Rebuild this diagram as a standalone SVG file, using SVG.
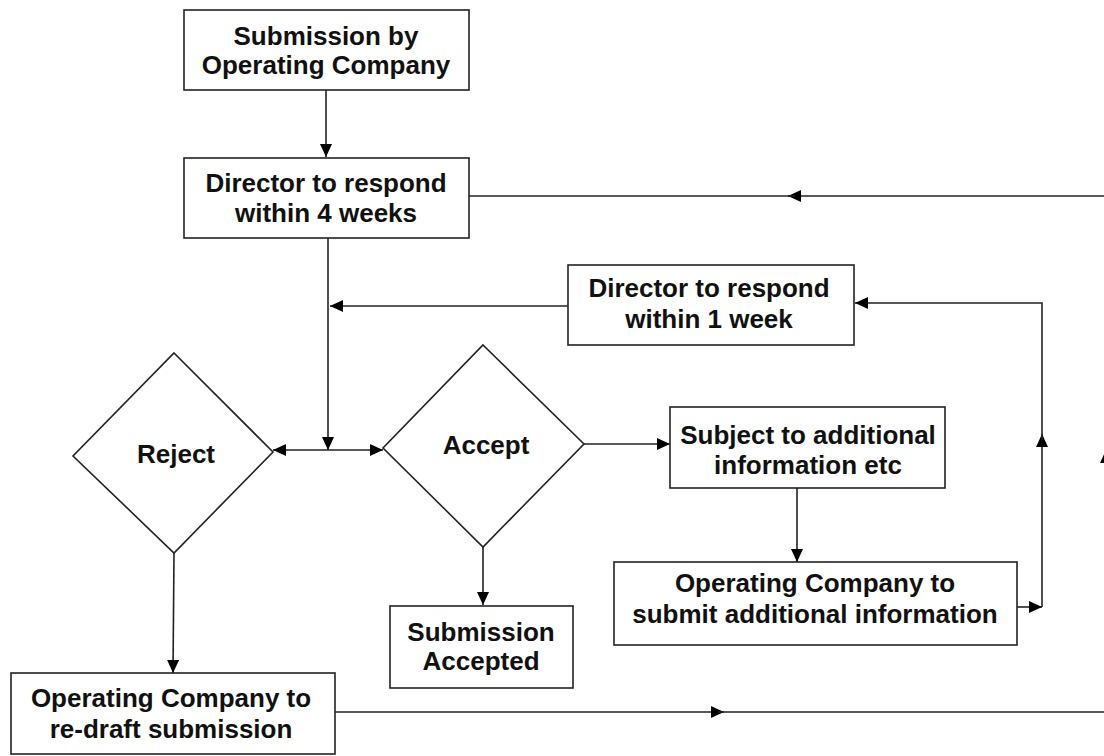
<svg xmlns="http://www.w3.org/2000/svg" width="1104" height="756" viewBox="0 0 1104 756">
<style>
.box{fill:#fff;stroke:#222;stroke-width:1.6}
.ln{fill:none;stroke:#222;stroke-width:1.6}
.t{font-family:"Liberation Sans",Arial,sans-serif;font-weight:bold;font-size:26px;fill:#111;text-anchor:middle}
</style>
<defs>
<marker id="ah" markerUnits="userSpaceOnUse" markerWidth="14" markerHeight="14" refX="13" refY="6" orient="auto">
<path d="M0,0 L13,6 L0,12 z" fill="#000"/>
</marker>
</defs>
<rect width="1104" height="756" fill="#fff"/>
<g id="connectors">
<path class="ln" d="M326,90 L326,157" marker-end="url(#ah)"/>
<path class="ln" d="M328,238 L328,450" marker-end="url(#ah)"/>
<path class="ln" d="M328,450 L273,450" marker-end="url(#ah)"/>
<path class="ln" d="M328,450 L383,450" marker-end="url(#ah)"/>
<path class="ln" d="M568,306 L330,306" marker-end="url(#ah)"/>
<path class="ln" d="M1106,196 L788,196" marker-end="url(#ah)"/>
<path class="ln" d="M795,196 L469,196"/>
<path class="ln" d="M1106,712 L1106,450" marker-end="url(#ah)"/>
<path class="ln" d="M1106,455 L1106,196"/>
<path class="ln" d="M335,712 L724,712" marker-end="url(#ah)"/>
<path class="ln" d="M718,712 L1106,712"/>
<path class="ln" d="M584,444 L670,444" marker-end="url(#ah)"/>
<path class="ln" d="M797,488 L797,562" marker-end="url(#ah)"/>
<path class="ln" d="M1017,607 L1042,607" marker-end="url(#ah)"/>
<path class="ln" d="M1042,607 L1042,434" marker-end="url(#ah)"/>
<path class="ln" d="M1042,440 L1042,303 L855,303" marker-end="url(#ah)"/>
<path class="ln" d="M483,547 L483,605" marker-end="url(#ah)"/>
<path class="ln" d="M174,553 L173,673" marker-end="url(#ah)"/>
</g>
<g id="submission">
<rect class="box" x="184" y="10" width="285" height="80"/>
<text class="t" x="326" y="45">Submission by</text>
<text class="t" x="326" y="74">Operating Company</text>
</g>
<g id="director4">
<rect class="box" x="184" y="158" width="285" height="80"/>
<text class="t" x="326" y="192">Director to respond</text>
<text class="t" x="326" y="222">within 4 weeks</text>
</g>
<g id="director1">
<rect class="box" x="568" y="265" width="286" height="80"/>
<text class="t" x="709" y="297">Director to respond</text>
<text class="t" x="709" y="328">within 1 week</text>
</g>
<g id="reject">
<polygon class="box" points="174,353 273,452 174,553 73,456"/>
<text class="t" x="176" y="463">Reject</text>
</g>
<g id="accept">
<polygon class="box" points="483,345 584,444 483,547 383,448"/>
<text class="t" x="486" y="454">Accept</text>
</g>
<g id="subject">
<rect class="box" x="670" y="407" width="275" height="81"/>
<text class="t" x="808" y="444">Subject to additional</text>
<text class="t" x="808" y="474">information etc</text>
</g>
<g id="submitinfo">
<rect class="box" x="614" y="562" width="403" height="83"/>
<text class="t" x="815" y="592">Operating Company to</text>
<text class="t" x="815" y="623">submit additional information</text>
</g>
<g id="accepted">
<rect class="box" x="390" y="606" width="183" height="82"/>
<text class="t" x="481" y="641">Submission</text>
<text class="t" x="481" y="670">Accepted</text>
</g>
<g id="redraft">
<rect class="box" x="11" y="673" width="324" height="81"/>
<text class="t" x="171" y="707">Operating Company to</text>
<text class="t" x="171" y="738">re-draft submission</text>
</g>
</svg>
